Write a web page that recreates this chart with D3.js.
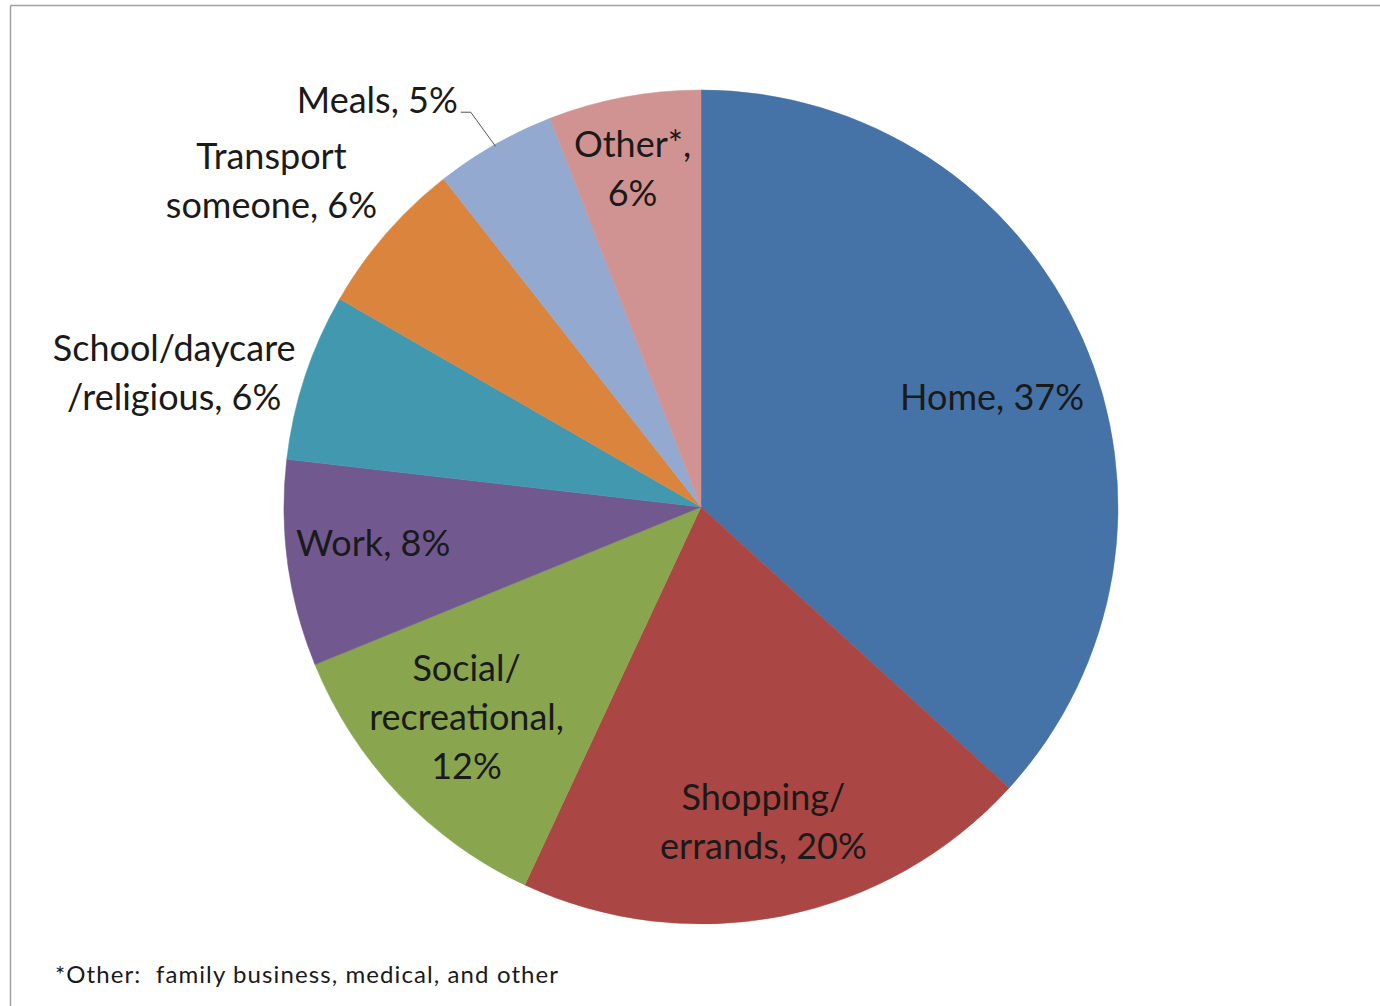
<!DOCTYPE html>
<html>
<head>
<meta charset="utf-8">
<script src="https://cdn.jsdelivr.net/npm/d3@7"></script>
<style>
  html, body { margin: 0; padding: 0; background: #fff; }
  svg { display: block; }
</style>
</head>
<body>
<svg id="chart" width="1380" height="1006"></svg>
<script>
// ---- data ----
const categories = ["Home", "Shopping/ errands", "Social/ recreational", "Work", "School/daycare /religious", "Transport someone", "Meals", "Other*"];
const values = [36.8, 20.2, 11.9, 8.0, 6.5, 6.1, 4.7, 5.9];
const labelLines = [
  ["Home, 37%"],
  ["Shopping/", "errands, 20%"],
  ["Social/", "recreational,", "12%"],
  ["Work, 8%"],
  ["School/daycare", "/religious, 6%"],
  ["Transport", "someone, 6%"],
  ["Meals, 5%"],
  ["Other*,", "6%"]
];
const footnote = "*Other:  family business, medical, and other";

// ---- styles / layout ----
const colors = ["#4572A7", "#AA4643", "#89A54E", "#71588F", "#4198AF", "#DB843D", "#93A9CF", "#D19392"];
// label placement: [radius factor, dx, dy, leader]
const labelPlace = [
  [0.75, 5, 17, false],
  [0.75, 1, 8, false],
  [0.75, -8, -5, false],
  [0.75, -18, -6, false],
  [1.30, -12, 36, false],
  [1.29, -23, 26, false],
  [1.20, -76, 28, true],
  [0.80, -7, -10, false]
];

const W = 1380, H = 1006;
const cx = 701, cy = 507, R = 417;
const fontFamily = "Lato, 'Open Sans', sans-serif";
const fontSize = 36, lineH = 49;

const svg = d3.select("#chart");

// frame lines
svg.append("line").attr("x1", 10.5).attr("y1", 5.5).attr("x2", W).attr("y2", 5.5)
  .attr("stroke", "#a0a0a0").attr("stroke-width", 1.5);
svg.append("line").attr("x1", 10.5).attr("y1", 5.5).attr("x2", 10.5).attr("y2", H)
  .attr("stroke", "#a0a0a0").attr("stroke-width", 1.5);

const data = categories.map((c, i) => ({ name: c, value: values[i], i }));
const pie = d3.pie().value(d => d.value).sort(null);
const arcs = pie(data);
const arc = d3.arc().innerRadius(0).outerRadius(R);

const g = svg.append("g").attr("transform", `translate(${cx},${cy})`);
g.selectAll("path.slice").data(arcs).enter().append("path")
  .attr("class", "slice")
  .attr("d", arc)
  .attr("fill", d => colors[d.data.i])
  .attr("stroke", d => colors[d.data.i])
  .attr("stroke-width", 0.5);

// labels
arcs.forEach(a => {
  const i = a.data.i;
  const [k, dx, dy, leader] = labelPlace[i];
  const mid = (a.startAngle + a.endAngle) / 2;
  const px = Math.sin(mid) * R * k + dx;
  const py = -Math.cos(mid) * R * k + dy;
  const lines = labelLines[i];
  const t = g.append("text")
    .attr("font-family", fontFamily)
    .attr("font-size", fontSize)
    .attr("fill", "#1a1a1a")
    .attr("text-anchor", "middle");
  lines.forEach((ln, j) => {
    t.append("tspan")
      .attr("x", px)
      .attr("y", py + (j - (lines.length - 1) / 2) * lineH)
      .attr("dy", "0.35em")
      .text(ln);
  });
  if (leader) {
    const ex = Math.sin(mid) * (R - 2), ey = -Math.cos(mid) * (R - 2);
    const bb = t.node().getBBox();
    const sx = bb.x + bb.width + 3, sy = py + 12;
    g.append("polyline")
      .attr("points", `${sx},${sy} ${sx + 10},${sy} ${ex},${ey}`)
      .attr("fill", "none").attr("stroke", "#555").attr("stroke-width", 1);
  }
});

// footnote
svg.append("text")
  .attr("x", 55).attr("y", 983)
  .attr("font-family", fontFamily)
  .attr("font-size", 24)
  .attr("letter-spacing", 1.1)
  .attr("fill", "#1a1a1a")
  .attr("xml:space", "preserve")
  .style("white-space", "pre")
  .text(footnote);
</script>
</body>
</html>
